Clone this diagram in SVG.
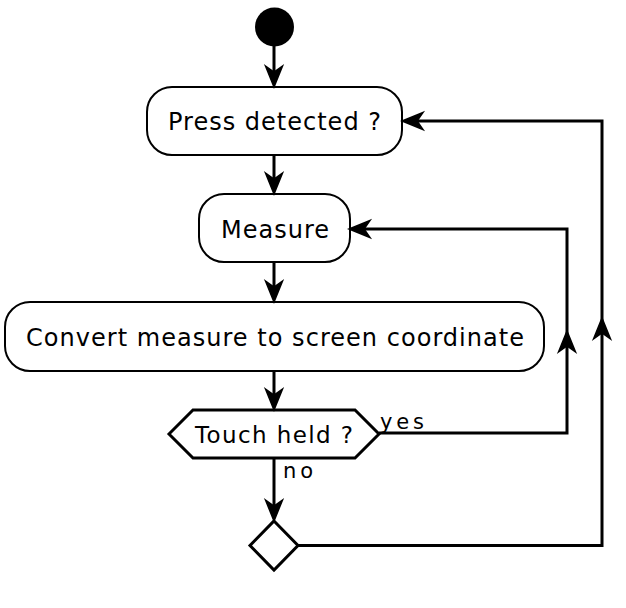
<svg xmlns="http://www.w3.org/2000/svg" width="626" height="608" viewBox="0 0 626 608">
<defs>
<style>
.box{fill:#fff;stroke:#000;stroke-width:2}
.dec{fill:#fff;stroke:#000;stroke-width:3}
.ln{fill:none;stroke:#000;stroke-width:3}
.ah{fill:#000;stroke:#000;stroke-width:1.5;stroke-linejoin:miter}
.t{font-family:"DejaVu Sans",sans-serif;font-size:24px;fill:#000}
.lbl{font-family:"DejaVu Sans",sans-serif;font-size:21px;fill:#000}
</style>
</defs>
<rect width="626" height="608" fill="#fff"/>
<g id="start"><circle cx="274.5" cy="27" r="19.5" fill="#000"/></g>
<g id="press"><rect class="box" x="147" y="87" width="255" height="68" rx="25" ry="25"/><text class="t" x="168" y="129.5" textLength="213" lengthAdjust="spacing">Press detected ?</text></g>
<g id="measure"><rect class="box" x="199" y="194" width="151" height="68" rx="25" ry="25"/><text class="t" x="221" y="238" textLength="108" lengthAdjust="spacing">Measure</text></g>
<g id="convert"><rect class="box" x="5" y="302" width="539" height="69" rx="25" ry="25"/><text class="t" x="26" y="345.5" textLength="498" lengthAdjust="spacing">Convert measure to screen coordinate</text></g>
<g id="touch"><polygon class="dec" points="169,434 193,410 355,410 379,434 355,458 193,458"/><text class="t" x="195" y="443" textLength="158" lengthAdjust="spacing" style="font-size:23px">Touch held ?</text></g>
<g id="merge"><polygon class="dec" points="274,521 298,545.5 274,570 250,545.5"/></g>
<g id="connectors">
<line class="ln" x1="274" y1="46" x2="274" y2="78"/>
<polygon class="ah" points="265.5,66 274,87 282.5,66 274,72"/>
<line class="ln" x1="274" y1="155" x2="274" y2="185"/>
<polygon class="ah" points="265.5,173 274,194 282.5,173 274,179"/>
<line class="ln" x1="274" y1="262" x2="274" y2="293"/>
<polygon class="ah" points="265.5,281 274,302 282.5,281 274,287"/>
<line class="ln" x1="274" y1="371" x2="274" y2="401"/>
<polygon class="ah" points="265.5,389 274,410 282.5,389 274,395"/>
<line class="ln" x1="274" y1="458" x2="274" y2="512"/>
<polygon class="ah" points="265.5,500 274,521 282.5,500 274,506"/>
<polyline class="ln" points="379,433 567,433 567,229 357,229"/>
<polygon class="ah" points="558.5,352 567,331 575.5,352 567,346"/>
<polygon class="ah" points="370,220.5 349,229 370,237.5 364,229"/>
<polyline class="ln" points="298,545.5 602,545.5 602,121 409,121"/>
<polygon class="ah" points="593.5,339 602,318 610.5,339 602,333"/>
<polygon class="ah" points="423,112.5 402,121 423,129.5 417,121"/>
<text class="lbl" x="380" y="429" textLength="44" lengthAdjust="spacing">yes</text>
<text class="lbl" x="283" y="478" textLength="30" lengthAdjust="spacing">no</text>
</g>
</svg>
